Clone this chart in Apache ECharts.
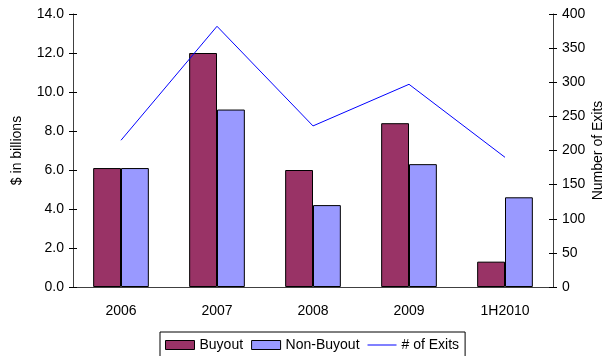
<!DOCTYPE html>
<html>
<head>
<meta charset="utf-8">
<script src="https://cdn.jsdelivr.net/npm/echarts@6/dist/echarts.min.js"></script>
<style>
    html, body { margin: 0; padding: 0; background: #fff; }
    #chart { width: 606px; height: 356px; }
</style>
</head>
<body>
<div id="chart"></div>
<script>
// 数据
const categories = ["2006", "2007", "2008", "2009", "1H2010"];
const buyout = [6.1, 12.0, 6.0, 8.4, 1.3];
const non_buyout = [6.1, 9.1, 4.2, 6.3, 4.6];
const exits = [215, 382, 236, 297, 190];

(function () {
    const my_echart = echarts.init(document.querySelector("#chart"));
    const font = "Liberation Sans";
    const axis_color = "#404040";
    let option = {
        animation: false,
        textStyle: { fontFamily: font },
        grid: { left: 73, right: 53, top: 14, bottom: 69, outerBoundsMode: "none" },
        legend: {
            left: 160,
            top: 332,
            padding: [6, 6, 8, 5],
            itemGap: 8,
            itemWidth: 29,
            itemHeight: 9,
            borderColor: "#000",
            borderWidth: 1,
            textStyle: { fontSize: 14, color: "#000", fontFamily: font },
            data: [
                { name: "Buyout", icon: "rect", itemStyle: { borderColor: "#000", borderWidth: 1 } },
                { name: "Non-Buyout", icon: "rect", itemStyle: { borderColor: "#000", borderWidth: 1 } },
                { name: "# of Exits", icon: "path://M0,0 H29 V1 H0 Z", itemStyle: { color: "#0000ff" } }
            ]
        },
        xAxis: [
            {
                type: "category",
                data: categories,
                axisLine: { lineStyle: { color: axis_color } },
                axisTick: { length: 4, lineStyle: { color: "#000" } },
                axisLabel: { fontSize: 14, color: "#000", margin: 17 }
            },
            {
                type: "category",
                data: categories,
                position: "bottom",
                axisLine: { show: false },
                axisTick: { inside: true, length: 3, lineStyle: { color: "#000" } },
                axisLabel: { show: false }
            }
        ],
        yAxis: [
            {
                type: "value",
                min: 0, max: 14, interval: 2,
                name: "$ in billions",
                nameLocation: "middle",
                nameRotate: 90,
                nameGap: 49,
                nameMoveOverlap: false,
                nameTextStyle: { fontSize: 14, color: "#000" },
                axisLine: { show: true, lineStyle: { color: axis_color } },
                axisTick: { show: true, length: 4, lineStyle: { color: "#000" } },
                axisLabel: { fontSize: 14, color: "#000", margin: 9, formatter: v => v.toFixed(1) },
                splitLine: { show: false }
            },
            {
                type: "value",
                min: 0, max: 400, interval: 50,
                name: "Number of Exits",
                nameLocation: "middle",
                nameRotate: 90,
                nameGap: 38,
                nameMoveOverlap: false,
                nameTextStyle: { fontSize: 14, color: "#000" },
                axisLine: { show: true, lineStyle: { color: axis_color } },
                axisTick: { show: true, length: 4, lineStyle: { color: "#000" } },
                axisLabel: { fontSize: 14, color: "#000", margin: 9 },
                splitLine: { show: false }
            },
            {
                type: "value", position: "left",
                min: 0, max: 14, interval: 2,
                axisLine: { show: false },
                axisTick: { show: true, inside: true, length: 4, lineStyle: { color: "#000" } },
                axisLabel: { show: false },
                splitLine: { show: false }
            },
            {
                type: "value", position: "right",
                min: 0, max: 400, interval: 50,
                axisLine: { show: false },
                axisTick: { show: true, inside: true, length: 4, lineStyle: { color: "#000" } },
                axisLabel: { show: false },
                splitLine: { show: false }
            }
        ],
        series: [
            {
                name: "Buyout",
                type: "bar",
                data: buyout,
                barGap: "0%",
                barCategoryGap: "42%",
                itemStyle: { color: "#993366", borderColor: "#000", borderWidth: 1 }
            },
            {
                name: "Non-Buyout",
                type: "bar",
                data: non_buyout,
                itemStyle: { color: "#9999ff", borderColor: "#000", borderWidth: 1 }
            },
            {
                name: "# of Exits",
                type: "line",
                yAxisIndex: 1,
                data: exits,
                symbol: "none",
                lineStyle: { color: "#0000ff", width: 1 },
                itemStyle: { color: "#0000ff" }
            }
        ]
    };
    my_echart.setOption(option);
    window.addEventListener("resize", function () {
        my_echart.resize();
    });
})();
</script>
</body>
</html>
